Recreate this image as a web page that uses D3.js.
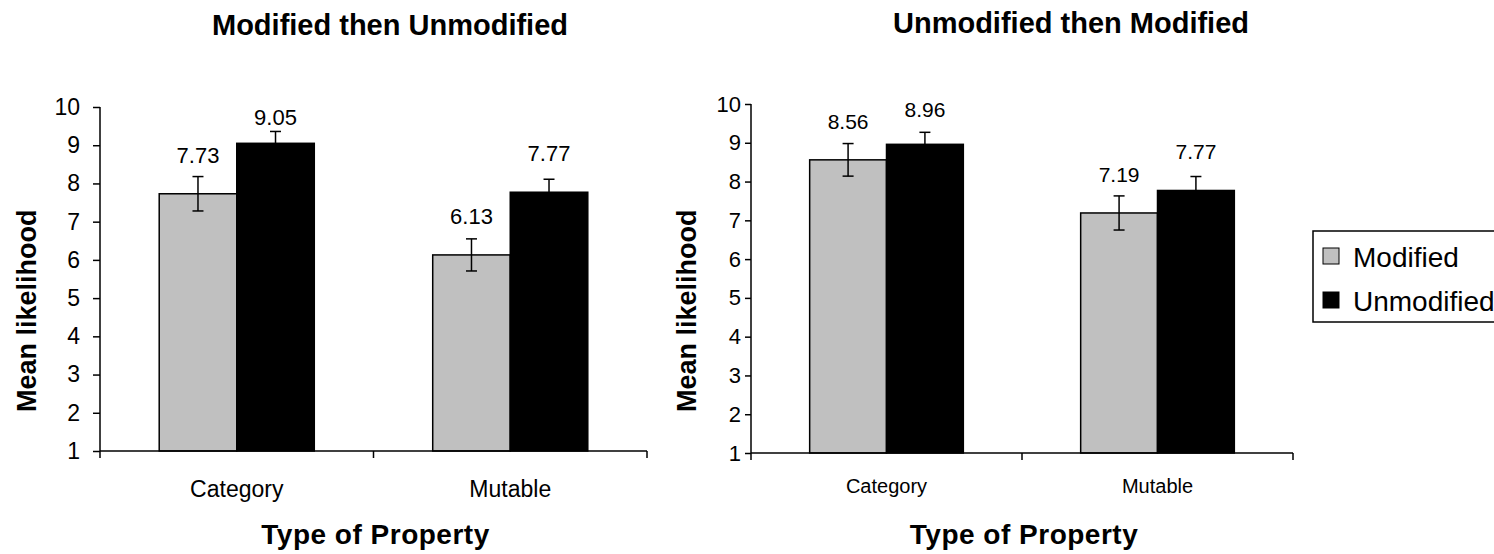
<!DOCTYPE html>
<html>
<head>
<meta charset="utf-8">
<script src="https://cdn.jsdelivr.net/npm/d3@7"></script>
<style>
  body { margin: 0; background: #fff; }
  svg text { font-family: "Liberation Sans", Arial, sans-serif; fill: #000; }
</style>
</head>
<body>
<svg id="chart" width="1494" height="554"></svg>
<script>
// data
const categories = ["Category", "Mutable"];
const groups = ["Modified", "Unmodified"];
const yTicks = [1, 2, 3, 4, 5, 6, 7, 8, 9, 10];

// left panel: Modified then Unmodified
const leftMeans = [[7.73, 9.05], [6.13, 7.77]];
const leftErrors = [[0.45, 0.31], [0.42, 0.34]];
// right panel: Unmodified then Modified
const rightMeans = [[8.56, 8.96], [7.19, 7.77]];
const rightErrors = [[0.42, 0.31], [0.44, 0.36]];

const colors = { Modified: "#c0c0c0", Unmodified: "#000000" };

const svg = d3.select("#chart");

// 单个面板的绘制
function drawPanel(cfg) {
  const g = svg.append("g");

  const x0 = d3.scaleBand().domain(categories).range([cfg.x0, cfg.x1]).padding(0);
  const gw = x0.bandwidth() * 0.567;
  const x1 = d3.scaleBand().domain(groups)
    .range([(x0.bandwidth() - gw) / 2, (x0.bandwidth() + gw) / 2]).padding(0);
  const y = d3.scaleLinear().domain([1, 10]).range([cfg.yBottom, cfg.yTop]);

  const rows = [];
  categories.forEach((c, i) => {
    groups.forEach((s, j) => {
      rows.push({ cat: c, grp: s, v: cfg.means[i][j], e: cfg.errors[i][j] });
    });
  });
  const cx = d => x0(d.cat) + x1(d.grp) + x1.bandwidth() / 2;

  // bars
  g.selectAll("rect.bar").data(rows).enter().append("rect")
    .attr("class", "bar")
    .attr("x", d => x0(d.cat) + x1(d.grp))
    .attr("y", d => y(d.v))
    .attr("width", x1.bandwidth())
    .attr("height", d => y(1) - y(d.v))
    .attr("fill", d => colors[d.grp])
    .attr("stroke", "#000")
    .attr("stroke-width", 1.5);

  // error bars
  const eb = g.selectAll("g.err").data(rows).enter().append("g")
    .attr("class", "err")
    .attr("transform", d => `translate(${cx(d)},0)`)
    .attr("stroke", "#000")
    .attr("stroke-width", 1.5);
  eb.append("line")
    .attr("y1", d => y(d.v + d.e)).attr("y2", d => d.grp === "Unmodified" ? y(d.v) : y(d.v - d.e));
  eb.append("line").attr("x1", -5.5).attr("x2", 5.5)
    .attr("y1", d => y(d.v + d.e)).attr("y2", d => y(d.v + d.e));
  eb.filter(d => d.grp === "Modified").append("line").attr("x1", -5.5).attr("x2", 5.5)
    .attr("y1", d => y(d.v - d.e)).attr("y2", d => y(d.v - d.e));

  // value labels
  g.selectAll("text.val").data(rows).enter().append("text")
    .attr("class", "val")
    .attr("x", cx)
    .attr("y", d => Math.max(y(d.v) - 31, cfg.yTop + cfg.labelMin))
    .attr("text-anchor", "middle")
    .style("font-size", cfg.valSize + "px")
    .text(d => d3.format(".2f")(d.v));

  // y axis
  const yAxis = g.append("g")
    .attr("transform", `translate(${cfg.x0},0)`)
    .call(d3.axisLeft(y).tickValues(yTicks).tickSize(cfg.yTickLen).tickPadding(cfg.yPad).tickFormat(d3.format("d")));
  yAxis.select(".domain").attr("stroke-width", 1.5).attr("d", `M0,${cfg.yTop}V${cfg.yBottom}`);
  yAxis.selectAll(".tick line").attr("stroke-width", 1.5);
  yAxis.selectAll(".tick text").style("font-size", cfg.tickSize + "px").style("font-family", "Liberation Sans, Arial, sans-serif");

  // x axis
  const xAxis = g.append("g")
    .attr("transform", `translate(0,${cfg.yBottom})`)
    .call(d3.axisBottom(x0).tickSize(0).tickPadding(cfg.catPad));
  xAxis.select(".domain").attr("stroke-width", 1.5).attr("d", `M${cfg.x0},0H${cfg.x1}`);
  xAxis.selectAll(".tick text").style("font-size", cfg.catSize + "px").style("font-family", "Liberation Sans, Arial, sans-serif");
  // tick marks at band edges
  const edges = [cfg.x0, x0("Mutable"), cfg.x1];
  xAxis.selectAll("line.edge").data(edges).enter().append("line")
    .attr("class", "edge")
    .attr("x1", d => d).attr("x2", d => d)
    .attr("y1", 0).attr("y2", 7)
    .attr("stroke", "#000").attr("stroke-width", 1.5);

  // titles
  g.append("text")
    .attr("x", cfg.titleX)
    .attr("y", cfg.titleY)
    .attr("text-anchor", "middle")
    .style("font-size", "29px").style("font-weight", "bold")
    .text(cfg.title);

  g.append("text")
    .attr("x", (cfg.x0 + cfg.x1) / 2 + 2)
    .attr("y", 544)
    .attr("text-anchor", "middle")
    .style("font-size", "28px").style("font-weight", "bold")
    .style("letter-spacing", "0.5px")
    .text("Type of Property");

  g.append("text")
    .attr("transform", `translate(${cfg.yLabelX},${y(4.67)}) rotate(-90)`)
    .attr("text-anchor", "middle")
    .style("font-size", "27px").style("font-weight", "bold")
    .text("Mean likelihood");
}

drawPanel({
  x0: 100, x1: 647, yTop: 107, yBottom: 451,
  means: leftMeans, errors: leftErrors,
  title: "Modified then Unmodified", titleX: 390, titleY: 35, yLabelX: 36,
  valSize: 22, tickSize: 23, yTickLen: 7, yPad: 13, catSize: 23, catPad: 30, labelMin: 18
});

drawPanel({
  x0: 751, x1: 1293, yTop: 104, yBottom: 453,
  means: rightMeans, errors: rightErrors,
  title: "Unmodified then Modified", titleX: 1071, titleY: 33, yLabelX: 696,
  valSize: 21, tickSize: 22, yTickLen: 6, yPad: 4, catSize: 20, catPad: 26, labelMin: 13
});

// legend
const legend = svg.append("g").attr("transform", "translate(1313,231)");
legend.append("rect")
  .attr("width", 220).attr("height", 91)
  .attr("fill", "#fff").attr("stroke", "#000").attr("stroke-width", 1.5);
const li = legend.selectAll("g.item").data(groups).enter().append("g")
  .attr("class", "item")
  .attr("transform", (d, i) => `translate(10,${17 + i * 44})`);
li.append("rect").attr("width", 16).attr("height", 16)
  .attr("fill", d => colors[d]).attr("stroke", "#000").attr("stroke-width", 1);
li.append("text").attr("x", 30).attr("y", 19)
  .style("font-size", "28px")
  .text(d => d);
</script>
</body>
</html>
